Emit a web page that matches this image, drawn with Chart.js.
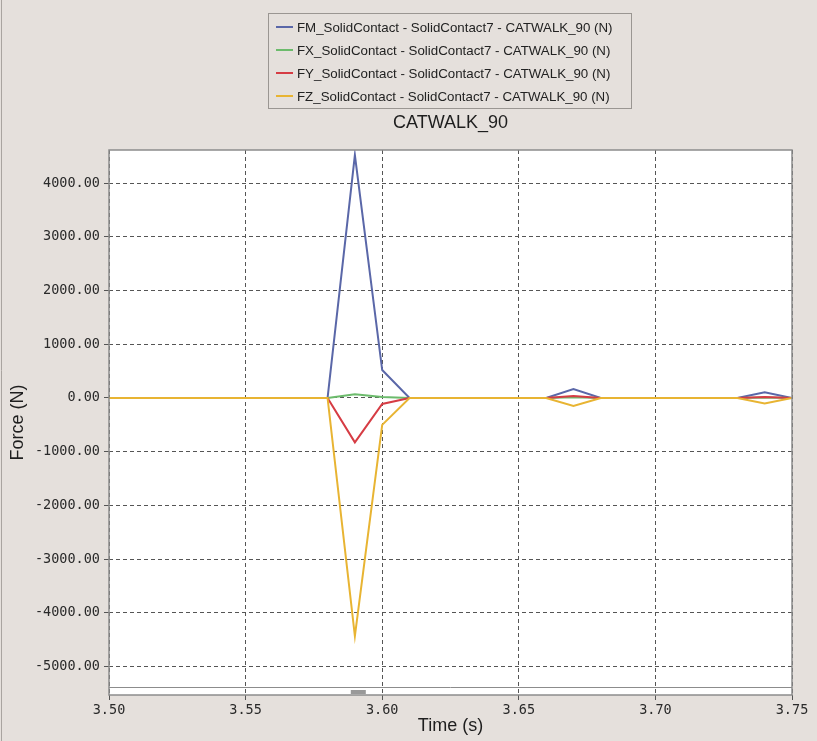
<!DOCTYPE html>
<html>
<head>
<meta charset="utf-8">
<script src="https://cdn.jsdelivr.net/npm/chart.js@4"></script>
<style>
  html, body { margin: 0; padding: 0; background: #e5e0dc; }
  #wrap { width: 817px; height: 741px; position: relative; }
</style>
</head>
<body>
<div id="wrap"><canvas id="chart" width="817" height="741"></canvas></div>
<script>
// data
const TIMES = [3.50, 3.51, 3.52, 3.53, 3.54, 3.55, 3.56, 3.57, 3.58, 3.59, 3.60, 3.61, 3.62,
               3.63, 3.64, 3.65, 3.66, 3.67, 3.68, 3.69, 3.70, 3.71, 3.72, 3.73, 3.74, 3.75];
const FM = [0, 0, 0, 0, 0, 0, 0, 0, 0, 4520, 520, 0, 0, 0, 0, 0, 0, 165, 0, 0, 0, 0, 0, 0, 105, 0];
const FX = [0, 0, 0, 0, 0, 0, 0, 0, 0, 70, 20, 0, 0, 0, 0, 0, 0, 15, 0, 0, 0, 0, 0, 0, 10, 0];
const FY = [0, 0, 0, 0, 0, 0, 0, 0, 0, -825, -110, 0, 0, 0, 0, 0, 0, 35, 0, 0, 0, 0, 0, 0, 20, 0];
const FZ = [0, 0, 0, 0, 0, 0, 0, 0, 0, -4430, -500, 0, 0, 0, 0, 0, 0, -150, 0, 0, 0, 0, 0, 0, -100, 0];

const SERIES_LABELS = [
  'FM_SolidContact - SolidContact7 - CATWALK_90 (N)',
  'FX_SolidContact - SolidContact7 - CATWALK_90 (N)',
  'FY_SolidContact - SolidContact7 - CATWALK_90 (N)',
  'FZ_SolidContact - SolidContact7 - CATWALK_90 (N)'
];
const SERIES_COLORS = ['#5a67a8', '#6cbb6c', '#d63c44', '#e8b432'];

const X_TICKS = [3.50, 3.55, 3.60, 3.65, 3.70, 3.75];
const Y_TICKS = [-5000, -4000, -3000, -2000, -1000, 0, 1000, 2000, 3000, 4000];
const X_RANGE = [3.50, 3.75];
const Y_RANGE = [-5526, 4614];
const MARKER = [3.5885, 3.594];

const TITLE = 'CATWALK_90';
const X_TITLE = 'Time (s)';
const Y_TITLE = 'Force (N)';

const BG = '#e5e0dc';
const FRAME = '#8c8c8c';
const SANS = '"Liberation Sans", Arial, sans-serif';
const MONO_FONT = { family: '"DejaVu Sans Mono", monospace', size: 13.5 };

const toPoints = vals => vals.map((v, i) => ({ x: TIMES[i], y: v }));

// --- decorations: background, frame, legend box, titles ---
const decor = {
  id: 'decor',
  beforeDraw(chart) {
    const { ctx, width, height, chartArea: a } = chart;
    ctx.save();
    ctx.fillStyle = BG;
    ctx.fillRect(0, 0, width, height);
    ctx.fillStyle = '#ffffff';
    ctx.fillRect(a.left, a.top, a.right - a.left, a.bottom - a.top);
    ctx.strokeStyle = '#a9a4a0';
    ctx.lineWidth = 1;
    ctx.beginPath();
    ctx.moveTo(1.5, 0); ctx.lineTo(1.5, height);
    ctx.stroke();
    ctx.restore();
  },
  afterDraw(chart) {
    const { ctx, chartArea: a, scales } = chart;
    ctx.save();

    // plot frame + bottom strip
    ctx.strokeStyle = FRAME;
    ctx.lineWidth = 1.5;
    ctx.strokeRect(a.left, a.top, a.right - a.left, a.bottom - a.top);
    ctx.lineWidth = 1;
    ctx.beginPath();
    ctx.moveTo(a.left, a.bottom - 7.5);
    ctx.lineTo(a.right, a.bottom - 7.5);
    ctx.stroke();
    const m0 = scales.x.getPixelForValue(MARKER[0]);
    const m1 = scales.x.getPixelForValue(MARKER[1]);
    ctx.fillStyle = '#999999';
    ctx.fillRect(m0, a.bottom - 5, m1 - m0, 4);

    // legend box
    const lx = 268, ly = 13, lw = 363, lh = 95;
    ctx.strokeStyle = '#9a9692';
    ctx.lineWidth = 1;
    ctx.strokeRect(lx + 0.5, ly + 0.5, lw, lh);
    ctx.font = '13.3px ' + SANS;
    ctx.textBaseline = 'middle';
    ctx.textAlign = 'left';
    chart.data.datasets.forEach((ds, i) => {
      const y = 27 + i * 23;
      ctx.strokeStyle = ds.borderColor;
      ctx.lineWidth = 2;
      ctx.beginPath();
      ctx.moveTo(276, y);
      ctx.lineTo(293, y);
      ctx.stroke();
      ctx.fillStyle = '#222222';
      ctx.fillText(ds.label, 297, y + 1);
    });

    // chart title
    ctx.fillStyle = '#1e1e1e';
    ctx.font = '18px ' + SANS;
    ctx.textAlign = 'center';
    ctx.fillText(TITLE, (a.left + a.right) / 2, 123);

    // axis titles
    ctx.fillText(X_TITLE, (a.left + a.right) / 2, 726);
    ctx.translate(18, (a.top + a.bottom) / 2);
    ctx.rotate(-Math.PI / 2);
    ctx.fillText(Y_TITLE, 0, 0);
    ctx.restore();
  }
};

const datasets = [FM, FX, FY, FZ].map((vals, i) => ({
  label: SERIES_LABELS[i],
  data: toPoints(vals),
  borderColor: SERIES_COLORS[i],
  backgroundColor: SERIES_COLORS[i],
  borderWidth: 2,
  pointRadius: 0,
  tension: 0,
  order: 3 - i
}));

const gridOpts = { color: '#555555', lineWidth: 1, tickLength: 5, tickColor: '#555555', tickBorderDash: [] };

new Chart(document.getElementById('chart'), {
  type: 'line',
  data: { datasets },
  plugins: [decor],
  options: {
    responsive: false,
    animation: false,
    layout: { padding: { top: 150, right: 25, left: 0, bottom: 0 } },
    plugins: {
      legend: { display: false },
      title: { display: false },
      tooltip: { enabled: false }
    },
    scales: {
      x: {
        type: 'linear',
        min: X_RANGE[0],
        max: X_RANGE[1],
        afterBuildTicks: s => { s.ticks = X_TICKS.map(v => ({ value: v })); },
        afterFit: s => { s.height = 46; },
        grid: gridOpts,
        border: { display: false, dash: [4, 3] },
        ticks: {
          color: '#2a2a2a',
          font: MONO_FONT,
          padding: 2,
          maxRotation: 0,
          callback: v => v.toFixed(2)
        }
      },
      y: {
        min: Y_RANGE[0],
        max: Y_RANGE[1],
        afterBuildTicks: s => { s.ticks = Y_TICKS.map(v => ({ value: v })); },
        afterFit: s => { s.width = 109; },
        grid: gridOpts,
        border: { display: false, dash: [4, 3] },
        ticks: {
          color: '#2a2a2a',
          font: MONO_FONT,
          padding: 4,
          callback: v => v.toFixed(2)
        }
      }
    }
  }
});
</script>
</body>
</html>
